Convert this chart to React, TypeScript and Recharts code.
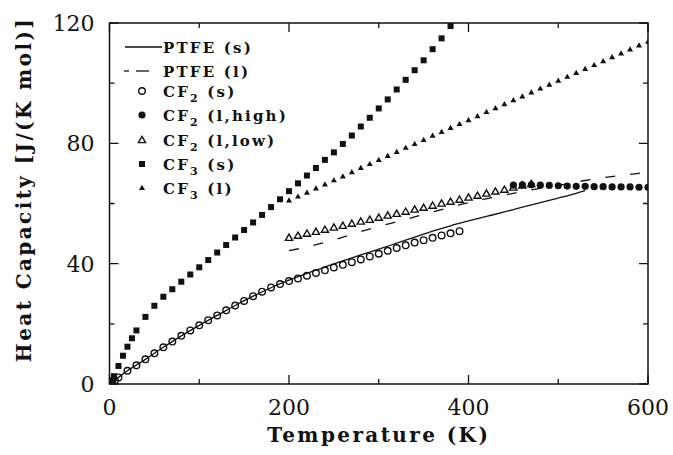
import { ComposedChart, Label, Line, Scatter, XAxis, YAxis } from "recharts";

// 온도(K) 대비 열용량 데이터 — 그림에서 읽은 값
const X_TICKS = [0, 100, 200, 300, 400, 500, 600];
const X_LABELS = [0, 200, 400, 600];
const Y_TICKS = [0, 20, 40, 60, 80, 100, 120];
const Y_LABELS = [0, 40, 80, 120];
const X_DOMAIN: [number, number] = [0, 600];
const Y_DOMAIN: [number, number] = [0, 120];

const PTFE_S: [number, number][] = [
  [0, 0], [10, 2.2], [20, 4.4], [40, 8.2], [60, 12.2], [80, 16.0], [100, 19.5],
  [120, 22.8], [140, 26.1], [160, 29.2], [180, 32.0], [200, 34.5], [220, 36.8],
  [240, 38.9], [260, 40.9], [280, 42.9], [300, 44.8], [320, 46.8], [340, 48.8],
  [360, 50.8], [380, 52.6], [400, 54.2], [420, 55.7], [440, 57.2], [460, 58.8],
  [480, 60.3], [500, 61.8], [520, 63.4], [530, 64.3],
];

const PTFE_L: [number, number][] = [
  [200, 44.3], [225, 45.9], [250, 47.9], [275, 50.2], [300, 52.4], [325, 54.3],
  [350, 56.4], [375, 58.4], [400, 60.3], [425, 61.9], [450, 63.4], [475, 64.8],
  [500, 66.0], [525, 67.4], [550, 68.6], [575, 69.5], [600, 70.4],
];

const CF2_S: [number, number][] = [
  [3, 0.4], [6, 1.2], [10, 2.2], [20, 4.4], [30, 6.2], [40, 8.2], [50, 10.2],
  [60, 12.2], [70, 14.1], [80, 16.0], [90, 17.8], [100, 19.5], [110, 21.2],
  [120, 22.8], [130, 24.5], [140, 26.1], [150, 27.6], [160, 29.2], [170, 30.7],
  [180, 32.1], [190, 33.2], [200, 34.2], [210, 35.1], [220, 36.0], [230, 36.9],
  [240, 37.8], [250, 38.7], [260, 39.6], [270, 40.5], [280, 41.4], [290, 42.4],
  [300, 43.3], [310, 44.3], [320, 45.2], [330, 46.1], [340, 47.0], [350, 47.8],
  [360, 48.6], [370, 49.4], [380, 50.1], [390, 50.8],
];

const CF2_L_HIGH: [number, number][] = [
  [450, 66.1], [460, 66.2], [470, 66.2], [480, 66.1], [490, 66.0], [500, 65.9],
  [510, 65.8], [520, 65.7], [530, 65.7], [540, 65.6], [550, 65.6], [560, 65.5],
  [570, 65.5], [580, 65.5], [590, 65.4], [600, 65.4],
];

const CF2_L_LOW: [number, number][] = [
  [200, 48.6], [210, 49.3], [220, 50.0], [230, 50.6], [240, 51.3], [250, 52.0],
  [260, 52.6], [270, 53.3], [280, 54.0], [290, 54.6], [300, 55.3], [310, 56.0],
  [320, 56.6], [330, 57.3], [340, 58.0], [350, 58.6], [360, 59.3], [370, 60.0],
  [380, 60.6], [390, 61.3], [400, 62.0], [410, 62.6], [420, 63.3], [430, 64.0],
  [440, 64.6], [450, 65.3], [460, 66.0], [470, 66.5],
];

const CF3_S: [number, number][] = [
  [3, 1.2], [5, 2.6], [10, 6.0], [15, 9.4], [20, 12.4], [25, 15.2], [30, 17.8],
  [40, 22.3], [50, 26.0], [60, 29.0], [70, 31.5], [80, 34.0], [90, 36.4],
  [100, 38.8], [110, 41.2], [120, 43.7], [130, 46.2], [140, 48.7], [150, 51.2],
  [160, 53.7], [170, 56.2], [180, 58.8], [190, 61.4], [200, 64.1], [210, 66.7],
  [220, 69.3], [230, 71.8], [240, 74.5], [250, 77.0], [260, 79.8], [270, 82.6],
  [280, 85.6], [290, 88.5], [300, 91.6], [310, 94.6], [320, 97.9], [330, 101.1],
  [340, 104.3], [350, 107.6], [360, 111.3], [370, 114.9], [380, 119.0],
];

const CF3_L: [number, number][] = [
  [200, 61.0], [210, 62.3], [220, 63.6], [230, 65.0], [240, 66.3], [250, 67.7],
  [260, 69.0], [270, 70.4], [280, 71.8], [290, 73.1], [300, 74.5], [310, 75.8],
  [320, 77.1], [330, 78.5], [340, 79.8], [350, 81.1], [360, 82.5], [370, 83.8],
  [380, 85.1], [390, 86.4], [400, 87.7], [410, 89.0], [420, 90.4], [430, 91.7],
  [440, 93.0], [450, 94.3], [460, 95.6], [470, 96.9], [480, 98.2], [490, 99.5],
  [500, 100.8], [510, 102.1], [520, 103.4], [530, 104.7], [540, 106.0],
  [550, 107.3], [560, 108.6], [570, 109.9], [580, 111.2], [590, 112.5],
  [600, 113.8],
];

const rows = (pts: [number, number][]) => pts.map(([T, cp]) => ({ T, cp }));

const INK = "#111";
const SERIF = "'DejaVu Serif', serif";
const TITLE = { fontFamily: SERIF, fontWeight: 700, fontSize: 20, letterSpacing: 2.4 };

// 차트 배치 (플롯 영역 = 여백 + 축 크기)
const W = 673;
const H = 455;
const MARGIN = { top: 23, right: 25, bottom: 0, left: 0 };
const X_AXIS_H = 71;
const Y_AXIS_W = 109.5;
const PLOT = {
  left: MARGIN.left + Y_AXIS_W,
  right: W - MARGIN.right,
  top: MARGIN.top,
  bottom: H - MARGIN.bottom - X_AXIS_H,
};

type TickProps = { x?: number | string; y?: number | string; payload?: { value?: unknown } };

function BottomTick({ x, y, payload }: TickProps) {
  const v = Number(payload?.value);
  if (!X_LABELS.includes(v)) return <g />;
  return (
    <text x={Number(x)} y={Number(y) + 31} textAnchor="middle" fontSize={22} fontFamily={SERIF} fill={INK}>
      {v}
    </text>
  );
}

function LeftTick({ x, y, payload }: TickProps) {
  const v = Number(payload?.value);
  if (!Y_LABELS.includes(v)) return <g />;
  return (
    <text x={Number(x) - 15} y={Number(y) + 8} textAnchor="end" fontSize={22} fontFamily={SERIF} fill={INK}>
      {v}
    </text>
  );
}

function YTitle({ viewBox }: { viewBox?: { x: number; y: number; width: number; height: number } }) {
  const vb = viewBox ?? { x: 0, y: 0, width: 0, height: 0 };
  const cx = vb.x + 24;
  const cy = vb.y + vb.height / 2 - 14;
  return (
    <text x={cx} y={cy} transform={`rotate(-90 ${cx} ${cy})`} textAnchor="middle"
      dominantBaseline="central" fill={INK} {...TITLE}>
      Heat Capacity [J/(K mol)]
    </text>
  );
}

// 마커 모양
type Pt = { cx?: number; cy?: number };
const OpenCircle = ({ cx = 0, cy = 0 }: Pt) => (
  <circle cx={cx} cy={cy} r={3.3} fill="none" stroke={INK} strokeWidth={1.4} />
);
const FilledCircle = ({ cx = 0, cy = 0 }: Pt) => <circle cx={cx} cy={cy} r={3.6} fill={INK} />;
const OpenTriangle = ({ cx = 0, cy = 0 }: Pt) => (
  <path d={`M${cx},${cy - 3.6}L${cx + 3.6},${cy + 2.6}L${cx - 3.6},${cy + 2.6}Z`}
    fill="none" stroke={INK} strokeWidth={1.4} />
);
const FilledSquare = ({ cx = 0, cy = 0 }: Pt) => (
  <rect x={cx - 3} y={cy - 3} width={6} height={6} fill={INK} />
);
const SmallTriangle = ({ cx = 0, cy = 0 }: Pt) => (
  <path d={`M${cx},${cy - 3.2}L${cx + 3},${cy + 2}L${cx - 3},${cy + 2}Z`} fill={INK} />
);

const LEGEND_ITEMS = [
  { y: 47, kind: "solid", text: ["PTFE (s)"] },
  { y: 71, kind: "dash", text: ["PTFE (l)"] },
  { y: 91, kind: "openCircle", text: ["CF", "2", " (s)"] },
  { y: 115, kind: "filledCircle", text: ["CF", "2", " (l,high)"] },
  { y: 140, kind: "openTriangle", text: ["CF", "2", " (l,low)"] },
  { y: 164, kind: "square", text: ["CF", "3", " (s)"] },
  { y: 188, kind: "smallTriangle", text: ["CF", "3", " (l)"] },
];

function LegendMark({ kind, y }: { kind: string; y: number }) {
  const mx = 142;
  if (kind === "solid") return <line x1={125} x2={162} y1={y} y2={y} stroke={INK} strokeWidth={1.3} />;
  if (kind === "dash")
    return (
      <g stroke={INK} strokeWidth={1.3}>
        <line x1={124} x2={129} y1={y} y2={y} />
        <line x1={136} x2={149} y1={y} y2={y} />
      </g>
    );
  if (kind === "openCircle") return <OpenCircle cx={mx} cy={y} />;
  if (kind === "filledCircle") return <FilledCircle cx={mx} cy={y} />;
  if (kind === "openTriangle") return <OpenTriangle cx={mx} cy={y} />;
  if (kind === "square") return <FilledSquare cx={mx} cy={y} />;
  return <SmallTriangle cx={mx} cy={y} />;
}

// 틀과 안쪽 눈금 — 축 안의 선이 그려지지 않아서 겹친 SVG에 그린다
const xPos = (t: number) =>
  PLOT.left + ((t - X_DOMAIN[0]) / (X_DOMAIN[1] - X_DOMAIN[0])) * (PLOT.right - PLOT.left);
const yPos = (v: number) =>
  PLOT.bottom - ((v - Y_DOMAIN[0]) / (Y_DOMAIN[1] - Y_DOMAIN[0])) * (PLOT.bottom - PLOT.top);

function Frame() {
  const d: string[] = [];
  X_TICKS.forEach((t) => {
    const len = X_LABELS.includes(t) ? 9 : 5;
    const x = xPos(t);
    d.push(`M${x},${PLOT.bottom}v${-len}`, `M${x},${PLOT.top}v${len}`);
  });
  Y_TICKS.forEach((v) => {
    const len = Y_LABELS.includes(v) ? 9 : 5;
    const y = yPos(v);
    d.push(`M${PLOT.left},${y}h${len}`, `M${PLOT.right},${y}h${-len}`);
  });
  return (
    <g fill="none" stroke={INK}>
      <rect x={PLOT.left} y={PLOT.top} width={PLOT.right - PLOT.left}
        height={PLOT.bottom - PLOT.top} strokeWidth={1.5} />
      <path d={d.join("")} strokeWidth={1.3} />
    </g>
  );
}

function Overlay() {
  return (
    <svg width={W} height={H} style={{ position: "absolute", left: 0, top: 0, pointerEvents: "none" }}>
      <Frame />
      {LEGEND_ITEMS.map((it) => (
        <g key={it.text.join("")}>
          <LegendMark kind={it.kind} y={it.y} />
          <text x={163} y={it.y + 5.5} fontFamily={SERIF} fontWeight={700} fontSize={15}
            letterSpacing={2.2} fill={INK}>
            {it.text.length === 1 ? (
              it.text[0]
            ) : (
              <>
                <tspan>{it.text[0]}</tspan>
                <tspan dy={5} fontSize={11}>{it.text[1]}</tspan>
                <tspan dy={-5}>{it.text[2]}</tspan>
              </>
            )}
          </text>
        </g>
      ))}
    </svg>
  );
}

export default function App() {
  return (
    <div style={{ position: "absolute", left: 0, top: 0, width: W, height: H, background: "#fff" }}>
      <ComposedChart width={W} height={H} margin={MARGIN}>
        <XAxis dataKey="T" type="number" domain={X_DOMAIN} ticks={X_TICKS} interval={0}
          height={X_AXIS_H} tickSize={0} tickMargin={0} tickLine={false} tick={BottomTick}
          axisLine={false} allowDataOverflow>
          <Label value="Temperature (K)" position="insideBottom" offset={13} fill={INK} style={TITLE} />
        </XAxis>
        <YAxis type="number" domain={Y_DOMAIN} ticks={Y_TICKS} interval={0} width={Y_AXIS_W}
          tickSize={0} tickMargin={0} tickLine={false} tick={LeftTick}
          axisLine={false} allowDataOverflow>
          <Label content={YTitle} />
        </YAxis>

        <Line data={rows(PTFE_S)} dataKey="cp" type="monotone" stroke={INK} strokeWidth={1.3}
          dot={false} isAnimationActive={false} />
        <Line data={rows(PTFE_L)} dataKey="cp" type="monotone" stroke={INK} strokeWidth={1.3}
          strokeDasharray="10 15" dot={false} isAnimationActive={false} />

        <Scatter data={rows(CF2_S)} dataKey="cp" shape={OpenCircle} isAnimationActive={false} />
        <Scatter data={rows(CF2_L_LOW)} dataKey="cp" shape={OpenTriangle} isAnimationActive={false} />
        <Scatter data={rows(CF2_L_HIGH)} dataKey="cp" shape={FilledCircle} isAnimationActive={false} />
        <Scatter data={rows(CF3_S)} dataKey="cp" shape={FilledSquare} isAnimationActive={false} />
        <Scatter data={rows(CF3_L)} dataKey="cp" shape={SmallTriangle} isAnimationActive={false} />
      </ComposedChart>
      <Overlay />
    </div>
  );
}
